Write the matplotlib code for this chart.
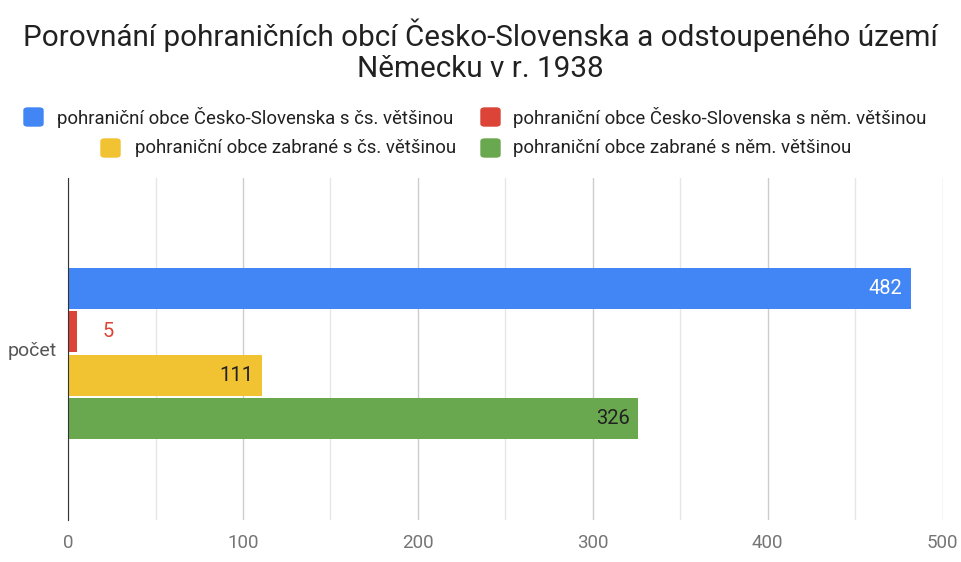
import matplotlib.pyplot as plt
from matplotlib.patches import FancyBboxPatch

# data
category = "počet"
series = [
    "pohraniční obce Česko-Slovenska s čs. většinou",
    "pohraniční obce Česko-Slovenska s něm. většinou",
    "pohraniční obce zabrané s čs. většinou",
    "pohraniční obce zabrané s něm. většinou",
]
values = [482, 5, 111, 326]
colors = ["#4285F4", "#DB4437", "#F1C232", "#6AA84F"]
label_colors = ["#ffffff", "#DB4437", "#212121", "#212121"]
xticks = [0, 100, 200, 300, 400, 500]

plt.rcParams['font.family'] = ['Roboto', 'DejaVu Sans']

fig = plt.figure(figsize=(9.61, 5.62), dpi=100)
ax = fig.add_axes([0.0708, 0.0747, 0.9102, 0.6083])

# title
fig.text(0.5, 1 - 51 / 562, "Porovnání pohraničních obcí Česko-Slovenska a odstoupeného území\nNěmecku v r. 1938",
         ha='center', va='center', fontsize=21.3, color='#212121', linespacing=1.15)

# bars
slot = 0.127
n = len(values)
for i, (v, c) in enumerate(zip(values, colors)):
    y = (n - 1) / 2 * slot - i * slot - 0.013
    ax.barh(y, v, height=slot - 0.008, color=c, zorder=3)
    if v > 30:
        ax.text(v - 5, y, str(v), ha='right', va='center', fontsize=14.5, color=label_colors[i], zorder=4)
    else:
        ax.text(v + 15, y, str(v), ha='left', va='center', fontsize=14.5, color=label_colors[i], zorder=4)

ax.set_xlim(0, 500)
ax.set_ylim(-0.5, 0.5)
ax.set_xticks(xticks)
ax.set_xticks(range(50, 500, 100), minor=True)
ax.grid(axis='x', which='major', color='#cccccc', linewidth=1, zorder=0)
ax.grid(axis='x', which='minor', color='#e6e6e6', linewidth=1, zorder=0)
ax.tick_params(axis='x', which='both', length=0, labelsize=13.5, labelcolor='#757575', pad=10)
ax.set_yticks([0.0])
ax.set_yticklabels([category])
ax.tick_params(axis='y', length=0, labelsize=14, labelcolor='#555555', pad=8)
for s in ['top', 'right', 'bottom']:
    ax.spines[s].set_visible(False)
ax.spines['left'].set_color('#333333')
ax.spines['left'].set_zorder(5)

# legend drawn manually in figure pixels
W, H = 961, 562
leg_pos = [(24, 117, 57), (481, 117, 513), (101, 148, 135), (481, 148, 513)]
for (px, py, tx), lab, c in zip(leg_pos, series, colors):
    fig.patches.append(FancyBboxPatch((px / W, 1 - (py + 9) / H), 19 / W, 18 / H,
                                      boxstyle="round,pad=0,rounding_size=0.004",
                                      transform=fig.transFigure, color=c, figure=fig))
    fig.text(tx / W, 1 - py / H, lab, ha='left', va='center', fontsize=13.4, color='#212121')

fig.savefig("out.png", dpi=100)
